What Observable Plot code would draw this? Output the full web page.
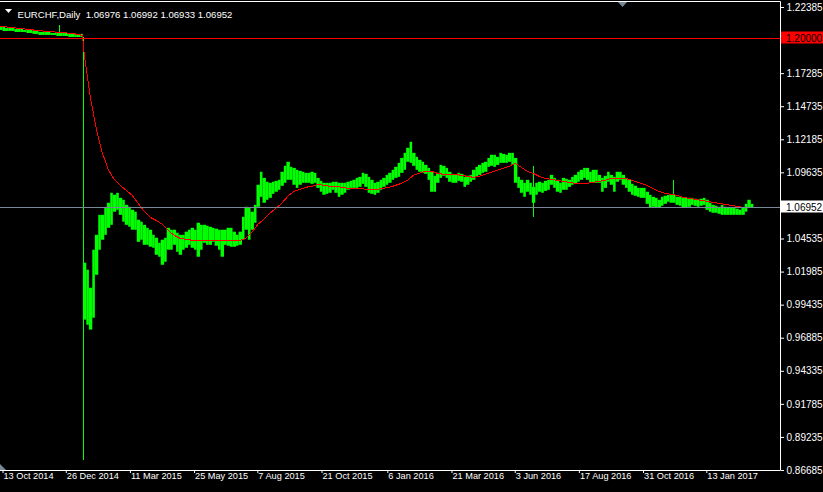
<!DOCTYPE html>
<html><head><meta charset="utf-8">
<script src="https://cdn.jsdelivr.net/npm/d3@7"></script>
<script src="https://cdn.jsdelivr.net/npm/@observablehq/plot@0.6"></script>
<style>
html,body{margin:0;padding:0;background:#000;}
#wrap{position:relative;width:823px;height:492px;overflow:hidden;background:#000;}
</style></head><body><div id="wrap"></div>
<script>
// ---- data ----
const symbolLabel = "EURCHF,Daily";
const lastBar = [1.06976, 1.06992, 1.06933, 1.06952]; // open high low close
const levelLine = 1.20000;
const firstWeek = "2014-10-06";
const lastWeek = "2017-03-06";

// half-week ranges (Mon-Wed, Thu-Sun) from first to last week
const halfHigh = [
1.2085,1.2085, 1.2085,1.2077, 1.2077,1.2077, 1.2069,1.2069, 1.2069,1.2061,
1.2061,1.2061, 1.2054,1.2054, 1.2046,1.2046, 1.2046,1.2046, 1.2038,1.2038,
1.2038,1.2038, 1.2038,1.2038, 1.2031,1.2031, 1.2031,1.2031, 1.2031,1.0267,
1.0213,1.0074, 1.0367,1.0482, 1.0636,1.0636, 1.0690,1.0729, 1.0806,1.0791,
1.0806,1.0767, 1.0752,1.0713, 1.0698,1.0675, 1.0660,1.0598, 1.0583,1.0559,
1.0536,1.0521, 1.0482,1.0459, 1.0421,1.0444, 1.0459,1.0536, 1.0521,1.0521,
1.0498,1.0482, 1.0482,1.0506, 1.0521,1.0536, 1.0521,1.0575, 1.0559,1.0559,
1.0552,1.0544, 1.0536,1.0529, 1.0521,1.0521, 1.0521,1.0536, 1.0536,1.0506,
1.0482,1.0506, 1.0621,1.0698, 1.0690,1.0660, 1.0713,1.0868, 1.0968,1.0921,
1.0891,1.0883, 1.0891,1.0898, 1.0906,1.0968, 1.1014,1.1045, 1.1006,1.0998,
1.0983,1.0975, 1.0968,1.0960, 1.0960,1.0968, 1.0960,1.0921, 1.0898,1.0883,
1.0883,1.0883, 1.0891,1.0891, 1.0883,1.0883, 1.0883,1.0891, 1.0898,1.0906,
1.0921,1.0929, 1.0960,1.0952, 1.0929,1.0906, 1.0883,1.0891, 1.0906,1.0921,
1.0944,1.0960, 1.0983,1.1006, 1.1037,1.1075, 1.1114,1.1153, 1.1199,1.1114,
1.1083,1.1060, 1.1045,1.1021, 1.0998,1.0968, 1.0937,1.0960, 1.1021,1.1014,
1.0998,1.0968, 1.0952,1.0944, 1.0960,1.0952, 1.0929,1.0937, 1.0944,1.0983,
1.1006,1.1021, 1.1037,1.1045, 1.1075,1.1099, 1.1099,1.1083, 1.1114,1.1106,
1.1099,1.1114, 1.1114,1.1075, 1.0929,1.0906, 1.0883,1.0906, 1.0883,1.0852,
1.0883,1.0891, 1.0883,1.0898, 1.0906,1.0944, 1.0921,1.0906, 1.0883,1.0921,
1.0914,1.0906, 1.0929,1.0944, 1.0968,1.0983, 1.0998,1.0998, 1.0968,1.0983,
1.0983,1.0944, 1.0921,1.0937, 1.0968,1.0944, 1.0929,1.0968, 1.0968,1.0944,
1.0921,1.0906, 1.0875,1.0860, 1.0844,1.0844, 1.0844,1.0814, 1.0790,1.0775,
1.0767,1.0752, 1.0775,1.0783, 1.0790,1.0790, 1.0790,1.0775, 1.0775,1.0767,
1.0767,1.0767, 1.0767,1.0760, 1.0752,1.0760, 1.0767,1.0752, 1.0729,1.0713,
1.0706,1.0698, 1.0713,1.0698, 1.0690,1.0690, 1.0690,1.0683, 1.0675,1.0690,
1.0721,1.0752, 1.0721
];
const halfLow = [
1.2061,1.2061, 1.2054,1.2054, 1.2054,1.2054, 1.2046,1.2046, 1.2046,1.2046,
1.2038,1.2038, 1.2031,1.2031, 1.2023,1.2023, 1.2023,1.2023, 1.2023,1.2023,
1.2015,1.2015, 1.2015,1.2015, 1.2007,1.2007, 1.2007,1.2007, 1.2007,0.9828,
0.9789,0.9751, 0.9843,1.0174, 1.0367,1.0444, 1.0482,1.0536, 1.0559,1.0660,
1.0675,1.0636, 1.0583,1.0559, 1.0544,1.0521, 1.0521,1.0428, 1.0444,1.0405,
1.0405,1.0390, 1.0382,1.0328, 1.0313,1.0251, 1.0274,1.0367, 1.0367,1.0405,
1.0351,1.0328, 1.0367,1.0382, 1.0405,1.0382, 1.0367,1.0313, 1.0367,1.0421,
1.0405,1.0405, 1.0428,1.0398, 1.0367,1.0313, 1.0405,1.0398, 1.0390,1.0390,
1.0398,1.0405, 1.0444,1.0521, 1.0444,1.0521, 1.0575,1.0698, 1.0775,1.0729,
1.0752,1.0767, 1.0798,1.0814, 1.0829,1.0860, 1.0883,1.0906, 1.0906,1.0868,
1.0844,1.0868, 1.0883,1.0883, 1.0883,1.0875, 1.0883,1.0844, 1.0814,1.0791,
1.0798,1.0806, 1.0829,1.0806, 1.0775,1.0791, 1.0806,1.0829, 1.0844,1.0844,
1.0844,1.0852, 1.0875,1.0852, 1.0806,1.0798, 1.0791,1.0806, 1.0829,1.0852,
1.0868,1.0883, 1.0906,1.0921, 1.0929,1.0960, 1.0983,1.1045, 1.1037,1.1014,
1.0983,1.0968, 1.0960,1.0952, 1.0906,1.0814, 1.0814,1.0883, 1.0921,1.0937,
1.0921,1.0891, 1.0883,1.0883, 1.0898,1.0891, 1.0852,1.0868, 1.0891,1.0906,
1.0929,1.0944, 1.0960,1.0968, 1.1006,1.1014, 1.1006,1.1021, 1.1037,1.1037,
1.1037,1.1045, 1.1021,1.0883, 1.0844,1.0806, 1.0775,1.0814, 1.0791,1.0729,
1.0791,1.0814, 1.0806,1.0821, 1.0829,1.0868, 1.0844,1.0814, 1.0806,1.0829,
1.0829,1.0852, 1.0868,1.0875, 1.0891,1.0906, 1.0921,1.0906, 1.0883,1.0883,
1.0883,1.0883, 1.0814,1.0844, 1.0891,1.0868, 1.0814,1.0891, 1.0906,1.0868,
1.0844,1.0814, 1.0791,1.0783, 1.0775,1.0767, 1.0767,1.0721, 1.0690,1.0698,
1.0690,1.0690, 1.0706,1.0721, 1.0737,1.0729, 1.0729,1.0713, 1.0706,1.0690,
1.0690,1.0698, 1.0713,1.0706, 1.0698,1.0706, 1.0713,1.0675, 1.0660,1.0652,
1.0652,1.0644, 1.0636,1.0636, 1.0636,1.0636, 1.0636,1.0636, 1.0636,1.0636,
1.0660,1.0690, 1.0690
];
// moving average, value at each week's Friday
const weekMA = [
1.20921, 1.20883, 1.20845, 1.20767, 1.20729, 1.20690, 1.20613, 1.20575, 1.20536, 1.20498,
1.20459, 1.20421, 1.20382, 1.20305,
1.18765, 1.15530, 1.13065, 1.11217, 1.09907, 1.09137, 1.08675, 1.08290, 1.07905, 1.07288,
1.06672, 1.06210, 1.05979, 1.05671, 1.05209, 1.04823, 1.04592, 1.04515, 1.04438, 1.04438,
1.04438, 1.04438, 1.04438, 1.04438, 1.04438, 1.04438, 1.04438, 1.04592, 1.05055, 1.05671,
1.06056, 1.06518, 1.06903, 1.07288, 1.07828, 1.08213, 1.08367, 1.08521, 1.08598, 1.08752,
1.08675, 1.08598, 1.08598, 1.08521, 1.08444, 1.08444, 1.08444, 1.08367, 1.08367, 1.08367,
1.08444, 1.08521, 1.08675, 1.08829, 1.09060, 1.09445, 1.09599, 1.09753, 1.09753, 1.09599,
1.09522, 1.09522, 1.09522, 1.09445, 1.09368, 1.09291, 1.09368, 1.09522, 1.09676, 1.09830,
1.09984, 1.10138, 1.10369, 1.10061, 1.09753, 1.09599, 1.09368, 1.09214, 1.09137, 1.09060,
1.08983, 1.08906, 1.08829, 1.08829, 1.08829, 1.08906, 1.08983, 1.09060, 1.09214, 1.09214,
1.09214, 1.09137, 1.08983, 1.08829, 1.08675, 1.08444, 1.08213, 1.08059, 1.07982, 1.07905,
1.07751, 1.07673, 1.07596, 1.07519, 1.07442, 1.07365, 1.07288, 1.07211, 1.07134, 1.07057,
1.06980, 1.06980, 1.06980
];
const extraMADates = ["2015-01-14"];
const extraMAValues = [1.20228];

// single days drawn as thin bars (spikes)
const dayDates = ["2014-12-18", "2015-01-15", "2016-06-24", "2016-12-05"];
const dayHigh  = [1.2100, 1.2010, 1.1010, 1.0906];
const dayLow   = [1.2015, 0.8742, 1.0623, 1.0745];

const yTicks = [1.22385, 1.17285, 1.14735, 1.12185, 1.09635, 1.04535, 1.01985, 0.99435, 0.96885, 0.94335, 0.91785, 0.89235, 0.86685];
const xTicks = ["2014-10-13", "2014-12-26", "2015-03-11", "2015-05-25", "2015-08-07", "2015-10-21", "2016-01-06", "2016-03-21", "2016-06-03", "2016-08-17", "2016-10-31", "2017-01-13"];

// ---- tables built from the arrays ----
const weeks = d3.utcMonday.range(new Date(firstWeek), d3.utcDay.offset(new Date(lastWeek), 1));
const halfDates = weeks.flatMap(d => [d, d3.utcDay.offset(d, 3)]).slice(0, halfHigh.length);
const bars = halfDates.map((d, i) => ({
  x1: d, x2: i + 1 < halfDates.length ? halfDates[i + 1] : d3.utcDay.offset(d, 3),
  high: halfHigh[i], low: halfLow[i]
}));
const ma = weeks.map((d, i) => ({date: d3.utcDay.offset(d, 4), value: weekMA[i]}))
  .concat(extraMADates.map((d, i) => ({date: new Date(d), value: extraMAValues[i]})))
  .sort((a, b) => a.date - b.date);
const days = dayDates.map((d, i) => ({date: new Date(d), high: dayHigh[i], low: dayLow[i]}));
const xTickDates = xTicks.map(d => new Date(d));
const fmtDate = d3.utcFormat("%-d %b %Y");
const f5 = v => v.toFixed(5);
const header = symbolLabel + "\u00a0\u00a0" + lastBar.map(f5).join(" ");
const FONT = "'Liberation Sans', Arial, sans-serif";

const W = 823, H = 492, mTop = 2, mRight = 43, mBottom = 22, mLeft = 0;

const chart = Plot.plot({
  width: W, height: H,
  marginTop: mTop, marginRight: mRight, marginBottom: mBottom, marginLeft: mLeft,
  style: {background: "#000", color: "#fff", fontFamily: FONT, fontSize: "10px"},
  x: {type: "utc", domain: [xTickDates[0], xTickDates[xTickDates.length - 1]], range: [2.5, 706.3],
      ticks: xTickDates, tickSize: 3, tickFormat: () => "", label: null},
  y: {domain: [yTicks[yTicks.length - 1], yTicks[0]], range: [470, 7], axis: "right",
      ticks: yTicks, tickSize: 3, tickPadding: 3, tickFormat: f5, label: null},
  marks: [
    Plot.rect(bars, {x1: "x1", x2: "x2", y1: "low", y2: "high", fill: "#00ff00"}),
    Plot.ruleX(days, {x: "date", y1: "low", y2: "high", stroke: "#00ff00", strokeWidth: 1, shapeRendering: "crispEdges"}),
    Plot.line(ma, {x: "date", y: "value", stroke: "#ff0000", strokeWidth: 1, shapeRendering: "crispEdges"}),
    Plot.ruleY([levelLine], {stroke: "#ff0000", strokeWidth: 1, shapeRendering: "crispEdges"}),
    Plot.ruleY([lastBar[3]], {stroke: "#778899", strokeWidth: 1, shapeRendering: "crispEdges"}),
    Plot.text([header], {frameAnchor: "top-left", dx: 17, dy: 9, fill: "#fff", textAnchor: "start", fontSize: 9.6}),
    Plot.text(xTickDates, {x: d => d, text: d => fmtDate(d), frameAnchor: "bottom", dy: 8.5, dx: 0.5, textAnchor: "start", fill: "#fff", fontSize: 9.2})
  ]
});
document.getElementById("wrap").appendChild(chart);

// ---- chrome: frame, price labels, markers ----
const svg = d3.select(chart);
const ys = chart.scale("y");
svg.append("path")
  .attr("d", `M0,1.5H${W - mRight + 0.5}V${H - mBottom + 0.5}H0`)
  .attr("fill", "none").attr("stroke", "#fff").attr("stroke-width", 1);
function priceBox(v, bg, fg) {
  const yy = Math.round(ys.apply(v));
  svg.append("rect").attr("x", W - mRight + 1).attr("y", yy - 6.5).attr("width", mRight).attr("height", 12).attr("fill", bg);
  svg.append("text").attr("x", W - mRight + 6).attr("y", yy + 3.5).attr("fill", fg)
    .attr("text-anchor", "start").attr("font-size", 10).attr("font-family", FONT).text(f5(v));
}
priceBox(levelLine, "#ff0000", "#000");
priceBox(lastBar[3], "#ffffff", "#000");
svg.append("path").attr("d", "M5,9H12L8.5,13Z").attr("fill", "#fff");
svg.append("path").attr("d", "M618,2H627L622.5,7Z").attr("fill", "#778899");
svg.append("path").attr("d", `M0,${H - mBottom - 6}V${H - mBottom}H6Z`).attr("fill", "#778899");
</script></body></html>
